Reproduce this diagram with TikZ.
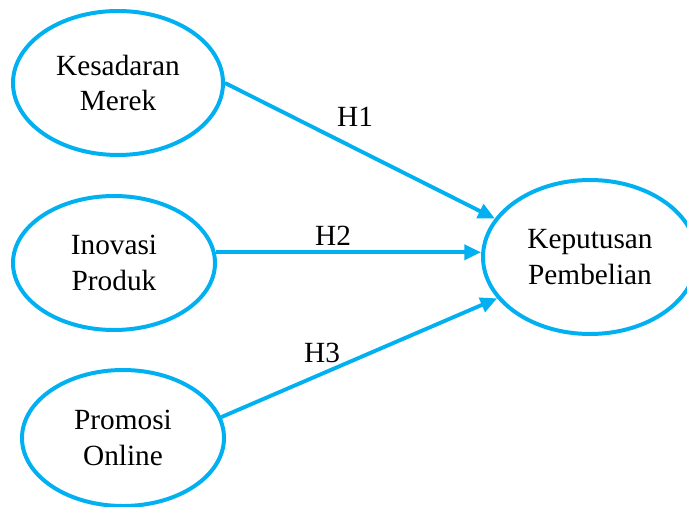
\documentclass[tikz,border=0pt]{standalone}
\usepackage{fontspec}
\setmainfont{Liberation Serif}
\usepackage{tikz}
\usetikzlibrary{shapes,arrows.meta,positioning}
\definecolor{skyblue}{RGB}{0,176,240}

\begin{document}
\begin{tikzpicture}
			\tikzstyle{Var}		= [ellipse, draw=skyblue, line width=3.4pt, fill=white, inner sep=0pt, align=center, font=\fontsize{25}{30}\selectfont]
			\tikzstyle{Hyp}		= [font=\fontsize{25}{30}\selectfont]
			\tikzstyle{Path}	= [draw=skyblue, line width=3.3pt, -{Triangle[length=0.5cm,width=0.45cm]}]

			\useasboundingbox (0, 0) rectangle (20.61, 15.18);

			\node (kes) at (3.54, 12.69) [Var, minimum width=6.3cm, minimum height=4.32cm] {Kesadaran\\Merek};
			\node (ino) at (3.42, 7.29) [Var, minimum width=6.06cm, minimum height=4.02cm] {Inovasi\\Produk};
			\node (pro) at (3.69, 2.04) [Var, minimum width=6.06cm, minimum height=4.08cm] {Promosi\\Online};
			\node (kep) at (17.7, 7.47) [Var, minimum width=6.42cm, minimum height=4.62cm] {Keputusan\\Pembelian};

			\draw [Path] (kes.east) to (kep.158);
			\draw [Path] (ino.6) to (ino.6 -| kep.west);
			\draw [Path] (pro.12) to (kep.204);

			\node (h1) at (10.65, 11.67) [Hyp] {H1};
			\node (h2) at (9.99, 8.1) [Hyp] {H2};
			\node (h3) at (9.66, 4.59) [Hyp] {H3};
		\end{tikzpicture}
\end{document}
